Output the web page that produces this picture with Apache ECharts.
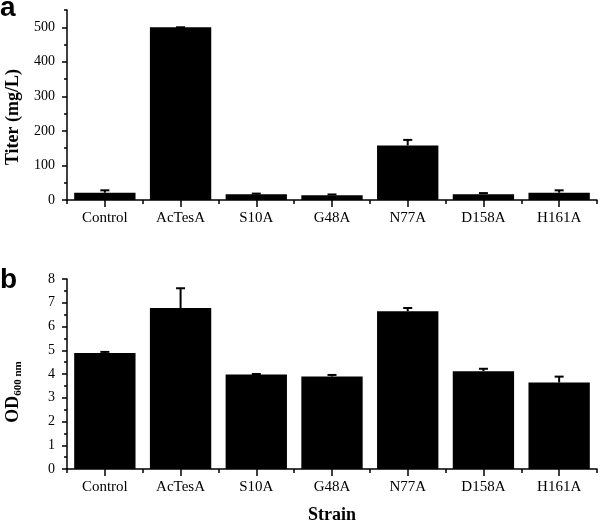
<!DOCTYPE html>
<html>
<head>
<meta charset="utf-8">
<script src="https://cdn.jsdelivr.net/npm/echarts@6/dist/echarts.min.js"></script>
<style>html,body{margin:0;padding:0;background:#fff}#c{width:600px;height:524px}</style>
</head>
<body>
<div id="c"></div>
<script>
var categories = ['Control', 'AcTesA', 'S10A', 'G48A', 'N77A', 'D158A', 'H161A'];
var titer = [21, 500, 17, 14, 158, 17, 21];
var titerErr = [7, 0, 1.5, 2, 16, 3, 7];
var od = [4.88, 6.78, 3.98, 3.89, 6.64, 4.12, 3.64];
var odErr = [0.05, 0.83, 0.02, 0.07, 0.14, 0.1, 0.25];
var titerTicks = [0, 100, 200, 300, 400, 500];
var titerMinorTicks = [50, 150, 250, 350, 450, 550];
var odTicks = [0, 1, 2, 3, 4, 5, 6, 7, 8];
var odMinorTicks = [0.5, 1.5, 2.5, 3.5, 4.5, 5.5, 6.5, 7.5];

var serif = '"Liberation Serif", "Times New Roman", serif';
var black = '#000';

function errData(vals, errs) {
  return vals.map(function (v, i) { return [i, v, errs[i]]; });
}
function errRender(params, api) {
  var x = api.value(0), v = api.value(1), e = api.value(2);
  var p0 = api.coord([x, v]);
  var p1 = api.coord([x, v + e]);
  var hw = 4.5;
  var st = { stroke: black, lineWidth: 2 };
  return {
    type: 'group',
    children: [
      { type: 'line', shape: { x1: p0[0], y1: p0[1], x2: p1[0], y2: p1[1] }, style: st },
      { type: 'line', shape: { x1: p1[0] - hw, y1: p1[1], x2: p1[0] + hw, y2: p1[1] }, style: st }
    ]
  };
}

function catAxis(gi, centerTicks, name) {
  var ax = {
    gridIndex: gi, type: 'category', data: categories, position: 'bottom',
    axisLine: { show: centerTicks, lineStyle: { color: black, width: 1.5 } },
    axisTick: { show: true, alignWithLabel: centerTicks, length: centerTicks ? 7 : 4, lineStyle: { color: black, width: 1.5 } },
    axisLabel: { show: centerTicks, interval: 0, margin: 11, color: black, fontFamily: serif, fontSize: 15 },
    splitLine: { show: false }
  };
  if (name) {
    ax.name = name; ax.nameLocation = 'middle'; ax.nameGap = 37;
    ax.nameTextStyle = { color: black, fontFamily: serif, fontSize: 18, fontWeight: 'bold' };
  }
  return ax;
}
function valAxis(gi, max, ticks, major) {
  return {
    gridIndex: gi, type: 'value', min: 0, max: max, position: 'left',
    axisLine: { show: major, lineStyle: { color: black, width: 1.5 } },
    axisTick: { show: true, customValues: ticks, length: major ? 5 : 3, lineStyle: { color: black, width: 1.5 } },
    axisLabel: { show: major, customValues: major ? ticks : undefined, margin: 12, color: black, fontFamily: serif, fontSize: 14 },
    splitLine: { show: false }
  };
}

var chart = echarts.init(document.getElementById('c'));
chart.setOption({
  animation: false,
  backgroundColor: '#fff',
  grid: [
    { left: 67, top: 10, width: 530, height: 190, containLabel: false, outerBoundsMode: 'none' },
    { left: 67, top: 279, width: 530, height: 190, containLabel: false, outerBoundsMode: 'none' }
  ],
  xAxis: [
    catAxis(0, true), catAxis(0, false),
    catAxis(1, true, 'Strain'), catAxis(1, false)
  ],
  yAxis: [
    valAxis(0, 550, titerTicks, true), valAxis(0, 550, titerMinorTicks, false),
    valAxis(1, 8, odTicks, true), valAxis(1, 8, odMinorTicks, false)
  ],
  series: [
    { type: 'bar', xAxisIndex: 0, yAxisIndex: 0, data: titer, barWidth: '81%', itemStyle: { color: black } },
    { type: 'custom', xAxisIndex: 0, yAxisIndex: 0, data: errData(titer, titerErr), renderItem: errRender, encode: { x: 0, y: 1 }, z: 3 },
    { type: 'bar', xAxisIndex: 2, yAxisIndex: 2, data: od, barWidth: '81%', itemStyle: { color: black } },
    { type: 'custom', xAxisIndex: 2, yAxisIndex: 2, data: errData(od, odErr), renderItem: errRender, encode: { x: 0, y: 1 }, z: 3 }
  ],
  graphic: [
    { type: 'text', x: 0, y: 8.5, style: { text: 'a', fontFamily: '"Liberation Sans", Arial, sans-serif', fontWeight: 'bold', fontSize: 28, fill: black, align: 'left', verticalAlign: 'middle' } },
    { type: 'text', x: 0, y: 280, style: { text: 'b', fontFamily: '"Liberation Sans", Arial, sans-serif', fontWeight: 'bold', fontSize: 28, fill: black, align: 'left', verticalAlign: 'middle' } },
    { type: 'text', x: 13, y: 117, rotation: Math.PI / 2, style: { text: 'Titer (mg/L)', fontFamily: serif, fontWeight: 'bold', fontSize: 18, fill: black, align: 'center', verticalAlign: 'middle' } },
    { type: 'text', x: 13, y: 392, rotation: Math.PI / 2, style: {
      text: '{a|OD}{b|600 nm}', align: 'center', verticalAlign: 'middle',
      rich: {
        a: { fontFamily: serif, fontWeight: 'bold', fontSize: 18, fill: black, lineHeight: 22, verticalAlign: 'middle' },
        b: { fontFamily: serif, fontWeight: 'bold', fontSize: 11, fill: black, lineHeight: 22, verticalAlign: 'bottom', padding: [10, 0, 0, 0] }
      }
    } }
  ]
});
</script>
</body>
</html>
